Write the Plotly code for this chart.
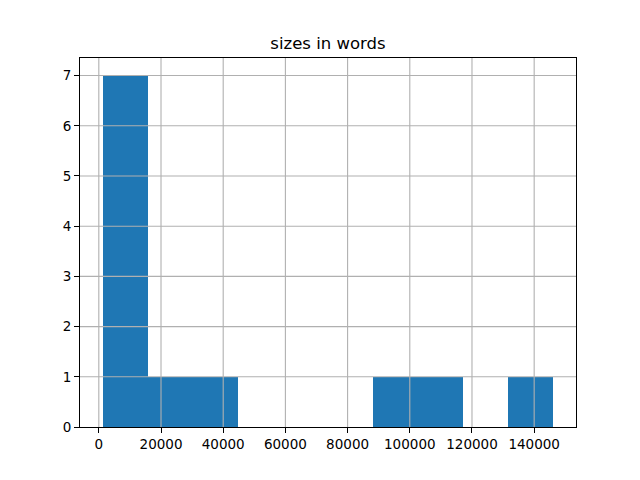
import plotly.graph_objects as go

bin_edges = [1200, 15700, 30200, 44700, 59200, 73700, 88200, 102700, 117200, 131700, 146200]
counts = [7, 1, 1, 0, 0, 0, 1, 1, 0, 1]
x_ticks = [0, 20000, 40000, 60000, 80000, 100000, 120000, 140000]
y_ticks = [0, 1, 2, 3, 4, 5, 6, 7]
title = "sizes in words"

centers = [(a + b) / 2 for a, b in zip(bin_edges[:-1], bin_edges[1:])]
widths = [b - a for a, b in zip(bin_edges[:-1], bin_edges[1:])]

span = bin_edges[-1] - bin_edges[0]
xr = [bin_edges[0] - 0.05 * span, bin_edges[-1] + 0.05 * span]
yr = [0, max(counts) * 1.05]

fig = go.Figure(go.Bar(x=centers, y=counts, width=widths,
                       marker=dict(color="#1f77b4", line=dict(width=0)),
                       hoverinfo="x+y"))

grid_color = "#b0b0b0"
shapes = []
for v in x_ticks:
    shapes.append(dict(type="line", xref="x", yref="paper", x0=v, x1=v, y0=0, y1=1,
                       line=dict(color=grid_color, width=1.1), layer="above"))
for v in y_ticks:
    if v > 0:
        shapes.append(dict(type="line", xref="paper", yref="y", x0=0, x1=1, y0=v, y1=v,
                           line=dict(color=grid_color, width=1.1), layer="above"))

axis_common = dict(
    showline=True, linecolor="black", linewidth=1, mirror=True,
    ticks="outside", ticklen=5, tickcolor="black", tickwidth=1,
    showgrid=False, zeroline=False, layer="above traces",
    tickfont=dict(family="DejaVu Sans", size=13.5, color="black"),
)

fig.update_layout(
    width=640, height=480,
    margin=dict(l=72, r=72, t=50, b=61),
    paper_bgcolor="white", plot_bgcolor="white",
    showlegend=False,
    shapes=shapes,
    title=dict(text=title, x=0.5, xanchor="center", xref="paper",
               y=(480 - 35) / 480, yref="container", yanchor="middle",
               font=dict(family="DejaVu Sans", size=16.5, color="black")),
    xaxis=dict(range=xr, tickvals=x_ticks, ticktext=[str(v) for v in x_ticks], **axis_common),
    yaxis=dict(range=yr, tickvals=y_ticks, ticktext=[str(v) for v in y_ticks], **axis_common),
    bargap=0,
)

fig.write_html("out.html")
